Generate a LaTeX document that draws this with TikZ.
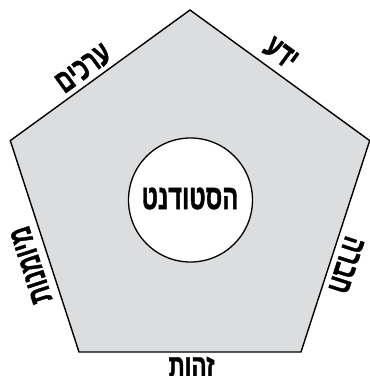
\documentclass[tikz,border=0pt]{standalone}
\usepackage{fontspec}
\TeXXeTstate=1
\newfontfamily\heb[Script=Hebrew,FakeStretch=0.68,FakeBold=1.2]{Liberation Sans}
\definecolor{pentfill}{HTML}{DCDDDF}
\begin{document}
\begin{tikzpicture}[x=1pt,y=-1pt,
  edgelabel/.style={font=\heb\bfseries\fontsize{33}{33}\selectfont, inner sep=0pt},
  centrelabel/.style={font=\heb\bfseries\fontsize{35}{35}\selectfont, inner sep=0pt}]
\useasboundingbox (0,0) rectangle (370,376);
\coordinate (T) at (190,10);
\coordinate (R) at (369.7,140.6);
\coordinate (BR) at (301,352);
\coordinate (BL) at (79,352);
\coordinate (L) at (10.3,140.6);
\draw[line width=1.4pt, fill=pentfill, line join=miter] (T) -- (R) -- (BR) -- (BL) -- (L) -- cycle;
\node[circle, draw, line width=1.3pt, fill=white, minimum size=124pt, inner sep=0pt] (student) at (190.5,200) {};
\node[centrelabel] (studenttext) at (190,198.5) {\beginR הסטודנט\endR};
\node[edgelabel, rotate=36] (values) at (83.5,68.5) {\beginR ערכים\endR};
\node[edgelabel, rotate=-36] (knowledge) at (281,53.5) {\beginR ידע\endR};
\node[edgelabel, rotate=108] (skills) at (31,265) {\beginR מיומנות\endR};
\node[edgelabel, rotate=-108] (society) at (346.5,265) {\beginR חברה\endR};
\node[edgelabel] (identity) at (191.5,367) {\beginR זהות\endR};
\end{tikzpicture}
\end{document}
